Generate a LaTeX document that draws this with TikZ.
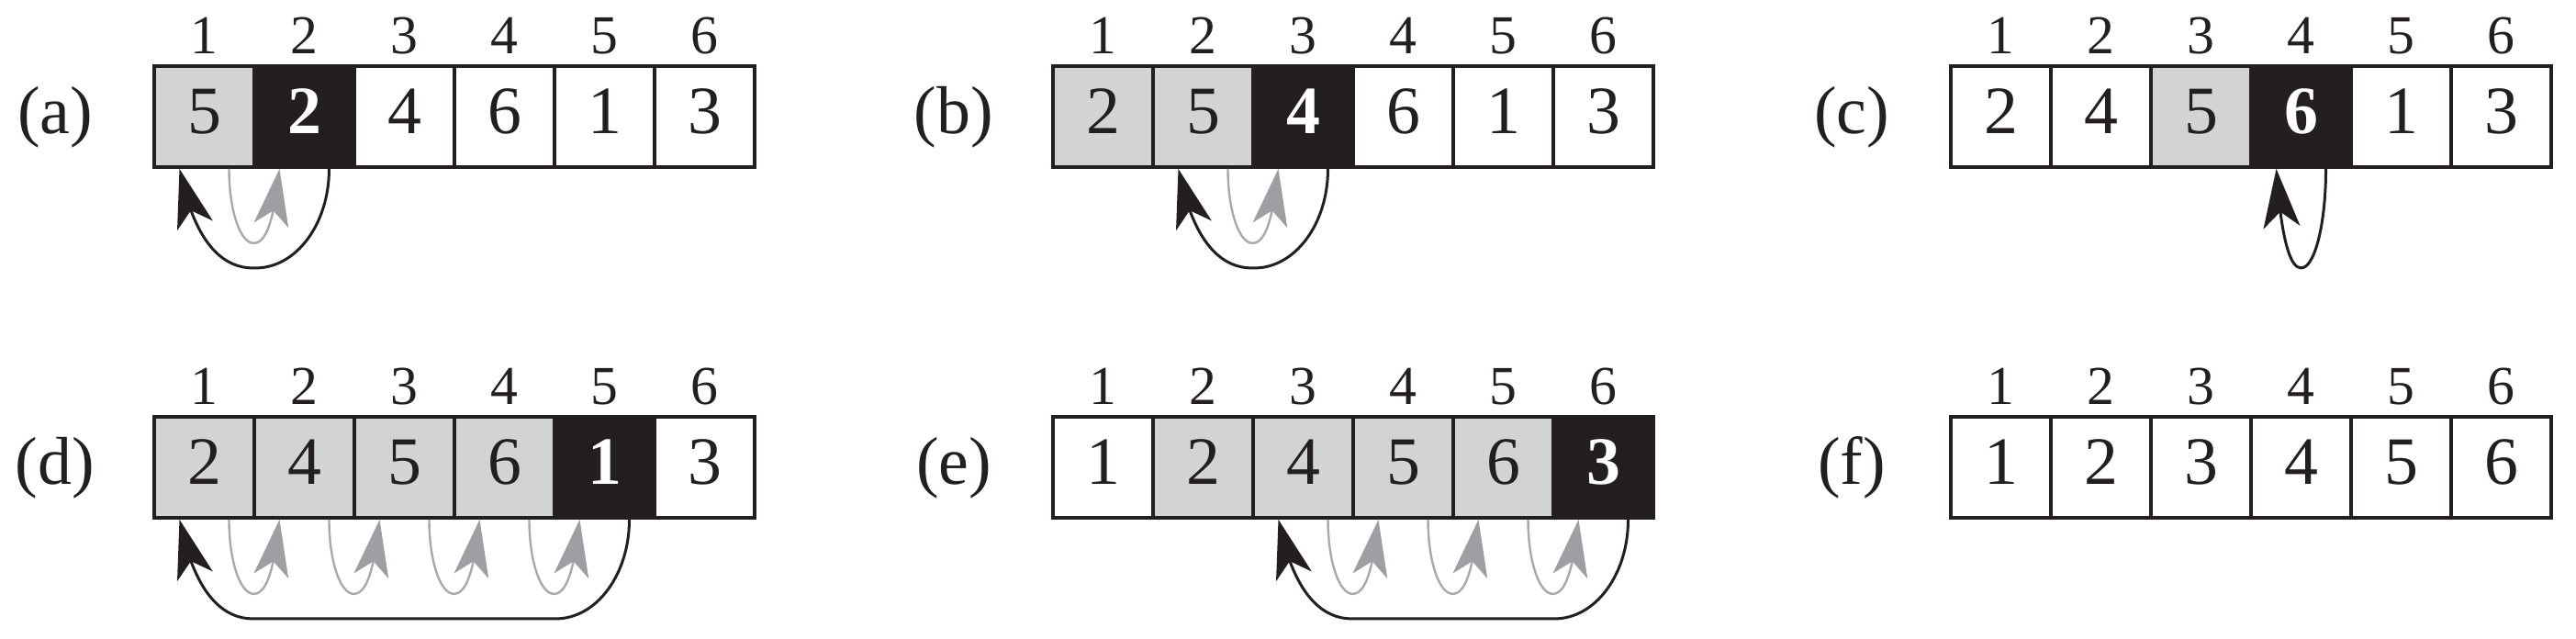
\documentclass[tikz,border=0pt]{standalone}
\usepackage{fontspec}
\setmainfont{Liberation Serif}
\usetikzlibrary{arrows.meta,bending,calc}
\definecolor{cellgray}{HTML}{D1D3D4}
\definecolor{cellblack}{HTML}{231F20}
\definecolor{arrgray}{HTML}{A7A9AC}
\definecolor{headgray}{HTML}{9D9FA2}
\newcommand\bkarr[3]{\draw[bkline] let \p1=($(#1.south)+(0.27cm,0)$), \p2=($(#2.south)+(-0.27cm,0)$) in
  (\p1) .. controls (\x1,\y1-0.6cm) and (\x1-0.448*#3,\y1-1.08cm) .. (\x1-#3,\y1-1.08cm)
  -- (\x2+#3,\y1-1.08cm) .. controls (\x2+0.448*#3,\y1-1.08cm) and (\x2+0.15*#3,\y1-0.6cm) .. (\p2);}
\newcommand\grarr[2]{\draw[grline] let \p1=($(#1.south)+(0.27cm,0)$), \p2=($(#2.south)+(-0.27cm,0)$) in
  (\p1) .. controls (\x1,\y1-0.45cm) and (\x1+0.12cm,\y1-0.81cm) .. (\x1+0.27cm,\y1-0.81cm)
  .. controls (\x2-0.12cm,\y1-0.81cm) and (\x2-0.05cm,\y1-0.45cm) .. (\p2);}
\begin{document}
\begin{tikzpicture}[
  cell/.style={draw=cellblack, line width=0.038cm, minimum width=1.09cm, minimum height=1.10cm,
    inner sep=0pt, text height=0.5cm, text depth=0.12cm, text=cellblack, font=\fontsize{21}{25}\selectfont},
  wc/.style={cell, fill=white},
  gc/.style={cell, fill=cellgray},
  bc/.style={cell, fill=cellblack, text=white, font=\fontsize{21}{25}\selectfont\bfseries},
  idx/.style={anchor=base, inner sep=0pt, font=\fontsize{17}{20}\selectfont, text=cellblack},
  plabel/.style={anchor=base, inner sep=0pt, font=\fontsize{21}{25}\selectfont, text=cellblack},
  bkline/.style={draw=cellblack, line width=0.03cm, -{Stealth[length=0.64cm,width=0.4cm,inset=0.17cm]}},
  grline/.style={draw=arrgray, line width=0.024cm, -{Stealth[length=0.62cm,width=0.38cm,inset=0.16cm,color=headgray,fill=headgray]}}
]
\useasboundingbox (0,0) rectangle (28.06,6.96);
% index labels
\foreach \i in {1,...,6} {
  \node[idx] (ai\i) at ({2.225+1.09*(\i-1)},6.37) {\i};
  \node[idx] (bi\i) at ({12.015+1.09*(\i-1)},6.37) {\i};
  \node[idx] (ci\i) at ({21.795+1.09*(\i-1)},6.37) {\i};
  \node[idx] (di\i) at ({2.225+1.09*(\i-1)},2.55) {\i};
  \node[idx] (ei\i) at ({12.015+1.09*(\i-1)},2.55) {\i};
  \node[idx] (fi\i) at ({21.795+1.09*(\i-1)},2.55) {\i};
}
% panel labels
\node[plabel] (la) at (0.60,5.50) {(a)};
\node[plabel] (lb) at (10.39,5.50) {(b)};
\node[plabel] (lc) at (20.17,5.50) {(c)};
\node[plabel] (ld) at (0.60,1.68) {(d)};
\node[plabel] (le) at (10.39,1.68) {(e)};
\node[plabel] (lf) at (20.17,1.68) {(f)};
% (a)
\node[gc] (a1) at (2.225,5.69) {5};
\node[bc] (a2) at (3.315,5.69) {2};
\node[wc] (a3) at (4.405,5.69) {4};
\node[wc] (a4) at (5.495,5.69) {6};
\node[wc] (a5) at (6.585,5.69) {1};
\node[wc] (a6) at (7.675,5.69) {3};
% (b)
\node[gc] (b1) at (12.015,5.69) {2};
\node[gc] (b2) at (13.105,5.69) {5};
\node[bc] (b3) at (14.195,5.69) {4};
\node[wc] (b4) at (15.285,5.69) {6};
\node[wc] (b5) at (16.375,5.69) {1};
\node[wc] (b6) at (17.465,5.69) {3};
% (c)
\node[wc] (c1) at (21.795,5.69) {2};
\node[wc] (c2) at (22.885,5.69) {4};
\node[gc] (c3) at (23.975,5.69) {5};
\node[bc] (c4) at (25.065,5.69) {6};
\node[wc] (c5) at (26.155,5.69) {1};
\node[wc] (c6) at (27.245,5.69) {3};
% (d)
\node[gc] (d1) at (2.225,1.87) {2};
\node[gc] (d2) at (3.315,1.87) {4};
\node[gc] (d3) at (4.405,1.87) {5};
\node[gc] (d4) at (5.495,1.87) {6};
\node[bc] (d5) at (6.585,1.87) {1};
\node[wc] (d6) at (7.675,1.87) {3};
% (e)
\node[wc] (e1) at (12.015,1.87) {1};
\node[gc] (e2) at (13.105,1.87) {2};
\node[gc] (e3) at (14.195,1.87) {4};
\node[gc] (e4) at (15.285,1.87) {5};
\node[gc] (e5) at (16.375,1.87) {6};
\node[bc] (e6) at (17.465,1.87) {3};
% (f)
\node[wc] (f1) at (21.795,1.87) {1};
\node[wc] (f2) at (22.885,1.87) {2};
\node[wc] (f3) at (23.975,1.87) {3};
\node[wc] (f4) at (25.065,1.87) {4};
\node[wc] (f5) at (26.155,1.87) {5};
\node[wc] (f6) at (27.245,1.87) {6};
% arrows
\grarr{a1}{a2}
\bkarr{a2}{a1}{0.8cm}
\grarr{b2}{b3}
\bkarr{b3}{b2}{0.8cm}
\bkarr{c4}{c4}{0.27cm}
\grarr{d1}{d2}
\grarr{d2}{d3}
\grarr{d3}{d4}
\grarr{d4}{d5}
\bkarr{d5}{d1}{0.8cm}
\grarr{e3}{e4}
\grarr{e4}{e5}
\grarr{e5}{e6}
\bkarr{e6}{e3}{0.8cm}
\end{tikzpicture}
\end{document}
